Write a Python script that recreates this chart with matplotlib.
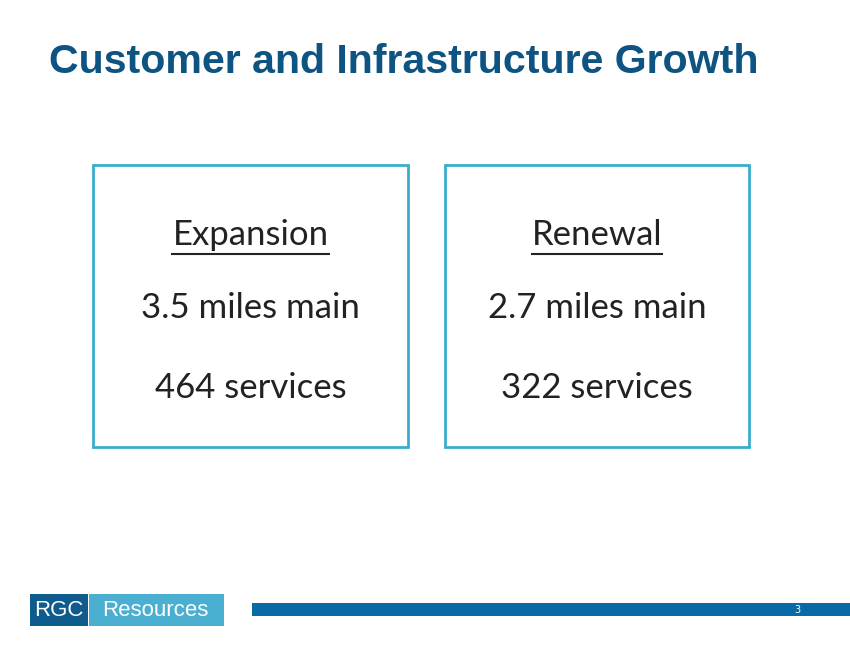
import matplotlib.pyplot as plt
from matplotlib.patches import Rectangle

title = "Customer and Infrastructure Growth"
box_titles = ["Expansion", "Renewal"]
box_lines = [["3.5 miles main", "464 services"], ["2.7 miles main", "322 services"]]
page_no = "3"

fig = plt.figure(figsize=(8.5, 6.57), dpi=100)
ax = fig.add_axes([0, 0, 1, 1])
ax.set_xlim(0, 850)
ax.set_ylim(657, 0)
ax.axis('off')

ax.text(49, 62, title, fontsize=29.6, fontweight='bold', color='#0d5482',
        family='Liberation Sans', va='center', ha='left')

boxes = [(93, 408), (445, 749)]
for (x0, x1), head, lines in zip(boxes, box_titles, box_lines):
    ax.add_patch(Rectangle((x0, 165), x1 - x0, 282, fill=False, ec='#3aaccc', lw=2))
    cx = (x0 + x1) / 2
    t = ax.text(cx, 235, head, fontsize=25, color='#222222', family='Lato',
                ha='center', va='center')
    fig.canvas.draw()
    bb = t.get_window_extent().transformed(ax.transData.inverted())
    ax.plot([bb.x0, bb.x1], [254, 254], color='#222222', lw=1.5)
    for y, s in zip([308, 388], lines):
        ax.text(cx, y, s, fontsize=25, color='#222222', family='Lato',
                ha='center', va='center')

# footer
ax.add_patch(Rectangle((30, 594), 58, 32, color='#0e5c8e', lw=0))
ax.add_patch(Rectangle((89, 594), 135, 32, color='#4aafd0', lw=0))
ax.text(59, 611, "RGC", fontsize=16, color='white', family='Liberation Sans',
        ha='center', va='center')
ax.text(155, 611, "Resources", fontsize=16, color='white', family='Liberation Sans',
        ha='center', va='center')
ax.add_patch(Rectangle((252, 603), 598, 13, color='#0a6aa6', lw=0))
ax.text(797, 610, page_no, fontsize=7, color='white', ha='center', va='center')

fig.savefig('out.png')
